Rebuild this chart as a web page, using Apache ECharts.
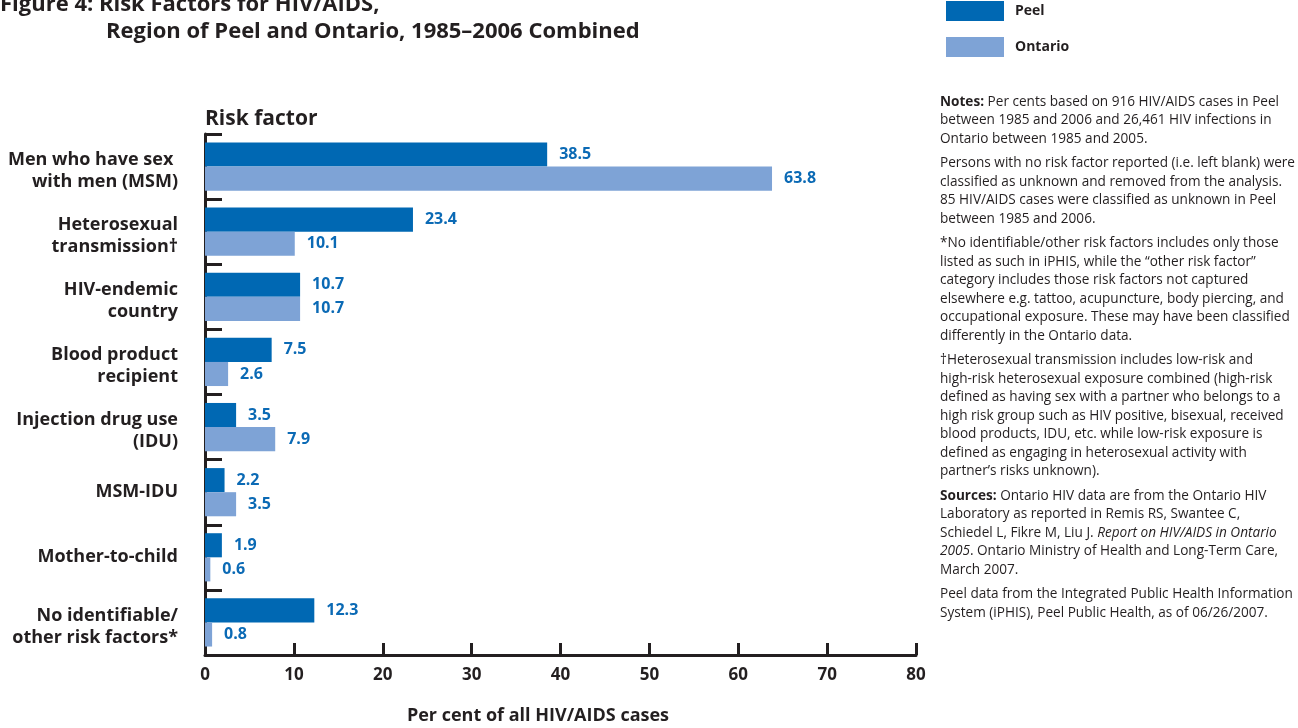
<!DOCTYPE html>
<html>
<head>
<meta charset="utf-8">
<script src="https://cdn.jsdelivr.net/npm/echarts@6/dist/echarts.min.js"></script>
<style>
html,body{margin:0;padding:0;background:#fff;}
#chart{width:1298px;height:728px;}
</style>
</head>
<body>
<div id="chart"></div>
<script>
const categories = [
  "Men who have sex \nwith men (MSM)",
  "Heterosexual\ntransmission\u2020",
  "HIV-endemic\ncountry",
  "Blood product\nrecipient",
  "Injection drug use\n(IDU)",
  "MSM-IDU",
  "Mother-to-child",
  "No identifiable/\nother risk factors*"
];
const peelValues = [38.5, 23.4, 10.7, 7.5, 3.5, 2.2, 1.9, 12.3];
const ontarioValues = [63.8, 10.1, 10.7, 2.6, 7.9, 3.5, 0.6, 0.8];
const seriesNames = ["Peel", "Ontario"];
const xTicks = [0, 10, 20, 30, 40, 50, 60, 70, 80];

const noteParagraphs = [
  ["{b|Notes:} Per cents based on 916 HIV/AIDS cases in Peel",
   "between 1985 and 2006 and 26,461 HIV infections in",
   "Ontario between 1985 and 2005."],
  ["Persons with no risk factor reported (i.e. left blank) were",
   "classified as unknown and removed from the analysis.",
   "85 HIV/AIDS cases were classified as unknown in Peel",
   "between 1985 and 2006."],
  ["*No identifiable/other risk factors includes only those",
   "listed as such in iPHIS, while the \u201cother risk factor\u201d",
   "category includes those risk factors not captured",
   "elsewhere e.g. tattoo, acupuncture, body piercing, and",
   "occupational exposure. These may have been classified",
   "differently in the Ontario data."],
  ["\u2020Heterosexual transmission includes low-risk and",
   "high-risk heterosexual exposure combined (high-risk",
   "defined as having sex with a partner who belongs to a",
   "high risk group such as HIV positive, bisexual, received",
   "blood products, IDU, etc. while low-risk exposure is",
   "defined as engaging in heterosexual activity with",
   "partner\u2019s risks unknown)."],
  ["{b|Sources:} Ontario HIV data are from the Ontario HIV",
   "Laboratory as reported in Remis RS, Swantee C,",
   "Schiedel L, Fikre M, Liu J. {i|Report on HIV/AIDS in Ontario}",
   "{i|2005}. Ontario Ministry of Health and Long-Term Care,",
   "March 2007."],
  ["Peel data from the Integrated Public Health Information",
   "System (iPHIS), Peel Public Health, as of 06/26/2007."]
];

const FONT = '"Open Sans", "Noto Sans", sans-serif';
const DARK = '#231f20';
const PEEL = '#0068b3';
const ONT = '#7ea3d6';
const LABEL = '#0b6ab5';
const NOTE_SIZE = 13.6;

const chart = echarts.init(document.getElementById('chart'));

const graphics = [];
graphics.push({
  type: 'text', x: 0, y: 5,
  style: {text: 'Figure 4: Risk Factors for HIV/AIDS,', font: 'bold 22px ' + FONT, fill: DARK, verticalAlign: 'middle'}
});
graphics.push({
  type: 'text', x: 106, y: 32,
  style: {text: 'Region of Peel and Ontario, 1985\u20132006 Combined', font: 'bold 22px ' + FONT, fill: DARK, verticalAlign: 'middle'}
});
graphics.push({
  type: 'text', x: 205, y: 119,
  style: {text: 'Risk factor', font: 'bold 21px ' + FONT, fill: DARK, verticalAlign: 'middle'}
});
graphics.push({
  type: 'text', x: 538, y: 716,
  style: {text: 'Per cent of all HIV/AIDS cases', font: 'bold 18px ' + FONT, fill: DARK, align: 'center', verticalAlign: 'middle'}
});

let y = 102;
noteParagraphs.forEach((para, pi) => {
  if (pi > 0) y += 6;
  para.forEach(line => {
    graphics.push({
      type: 'text', x: 940, y: y,
      style: {
        text: line, fill: DARK, fontFamily: FONT, fontSize: NOTE_SIZE, verticalAlign: 'middle',
        rich: {
          b: {fontWeight: 'bold', fontFamily: FONT, fontSize: NOTE_SIZE, fill: DARK},
          i: {fontStyle: 'italic', fontFamily: FONT, fontSize: NOTE_SIZE, fill: DARK}
        }
      }
    });
    y += 18.5;
  });
});

const option = {
  animation: false,
  backgroundColor: '#fff',
  legend: {
    data: seriesNames,
    orient: 'vertical',
    left: 941, top: -4,
    itemWidth: 58, itemHeight: 20, itemGap: 16,
    icon: 'rect',
    textStyle: {fontFamily: FONT, fontWeight: 'bold', fontSize: 14, color: DARK, padding: [0, 0, 0, 6]}
  },
  grid: {left: 205, right: 382, top: 134, bottom: 73, containLabel: false},
  xAxis: {
    type: 'value', min: 0, max: 80, interval: 10,
    axisLine: {show: true, lineStyle: {color: DARK, width: 3}},
    axisTick: {show: true, inside: true, length: 12, lineStyle: {color: DARK, width: 3}},
    splitLine: {show: false},
    axisLabel: {
      margin: 12, fontFamily: FONT, fontWeight: 'bold', fontSize: 17, color: DARK,
      formatter: v => xTicks.includes(v) ? String(v) : ''
    }
  },
  yAxis: {
    type: 'category', inverse: true, data: categories,
    axisLine: {show: true, lineStyle: {color: DARK, width: 3}},
    axisTick: {show: true, inside: true, length: 17, lineStyle: {color: DARK, width: 3}},
    axisLabel: {
      margin: 27, fontFamily: FONT, fontWeight: 'bold', fontSize: 18, color: DARK,
      lineHeight: 22, align: 'right',
      formatter: v => {
        const parts = v.split('\n');
        const body = parts.map(s => '{a|' + s + '}').join('\n');
        return parts.length > 1 ? '{p|}\n' + body : body;
      },
      rich: {
        a: {fontFamily: FONT, fontWeight: 'bold', fontSize: 18, color: DARK, lineHeight: 22, align: 'right'},
        p: {fontSize: 1, lineHeight: 8}
      }
    }
  },
  series: [
    {
      name: seriesNames[0], type: 'bar', data: peelValues,
      itemStyle: {color: PEEL}, barGap: '0%', barCategoryGap: '26%',
      label: {show: true, position: 'right', distance: 12, color: LABEL, fontFamily: FONT, fontWeight: 'bold', fontSize: 16,
        formatter: p => p.value.toFixed(1)}
    },
    {
      name: seriesNames[1], type: 'bar', data: ontarioValues,
      itemStyle: {color: ONT}, barGap: '0%', barCategoryGap: '26%',
      label: {show: true, position: 'right', distance: 12, color: LABEL, fontFamily: FONT, fontWeight: 'bold', fontSize: 16,
        formatter: p => p.value.toFixed(1)}
    }
  ],
  graphic: graphics
};
chart.setOption(option);
</script>
</body>
</html>
